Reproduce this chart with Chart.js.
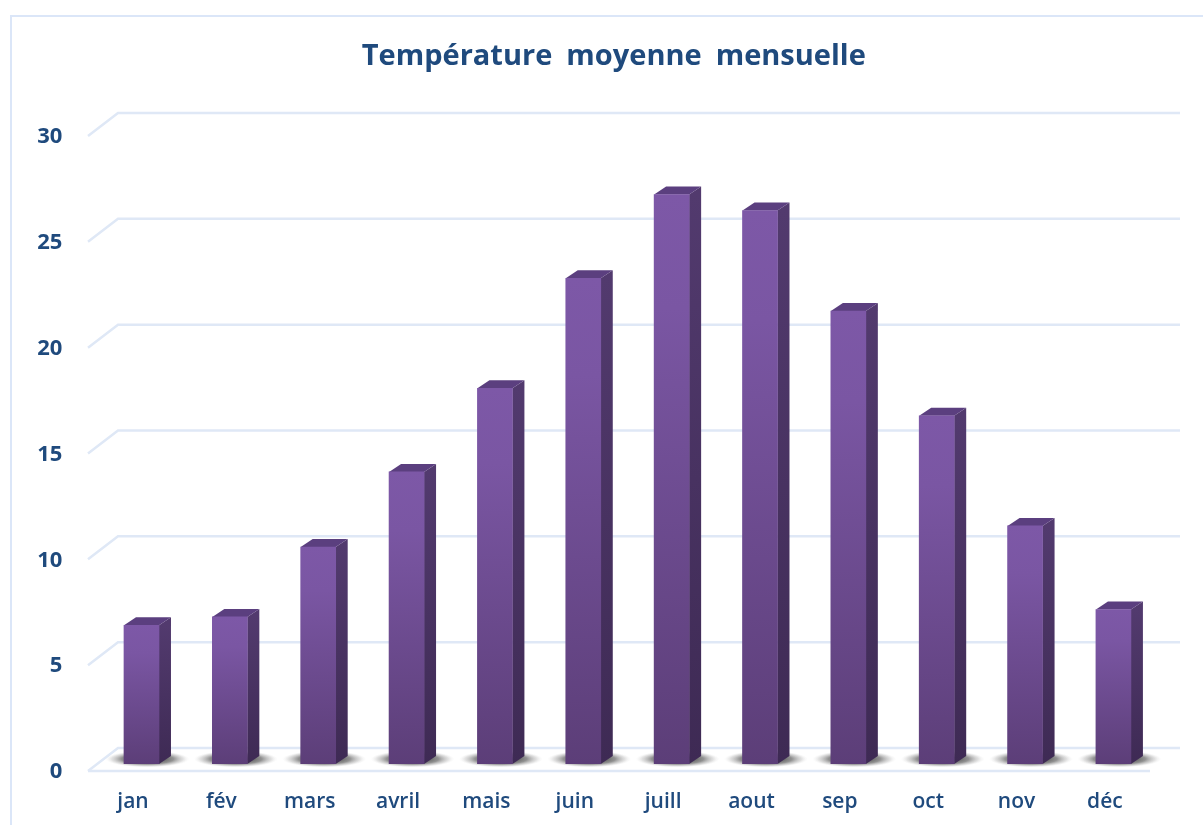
<!DOCTYPE html>
<html lang="fr">
<head>
<meta charset="utf-8">
<title>Température moyenne mensuelle</title>
<script src="https://cdn.jsdelivr.net/npm/chart.js@4/dist/chart.umd.min.js"></script>
<style>
html,body{margin:0;padding:0;background:#fff;overflow:hidden}
#wrap{width:1203px;height:825px;position:relative}
canvas{display:block;filter:blur(0.5px)}
</style>
</head>
<body>
<div id="wrap"><canvas id="c" width="1203" height="825"></canvas></div>
<script>
const categories = ['jan','fév','mars','avril','mais','juin','juill','aout','sep','oct','nov','déc'];
const temperatures = [6.55,6.95,10.25,13.8,17.75,22.95,26.9,26.15,21.4,16.45,11.25,7.3];
const chartTitle = 'Température moyenne mensuelle';
const axisMin = 0, axisMax = 30, axisStep = 5;

const TEXT = '#1f4a7d', GRID = '#dfe8f6', FRAME = '#dbe6f8';
const DX = 12, DY = 8;            // bar depth
const BACK_X = 118, BACK_DY = -16; // back wall offset
const FRONT_X = 88, FRONT_DY = 7;  // front edge offset
const BACK_END = 1180, FLOOR_END = 1150;
const TITLE_SHIFT = 30;

const wall = {
  id: 'wall',
  afterLayout(chart) {
    chart.titleBlock.left += TITLE_SHIFT;
    chart.titleBlock.right += TITLE_SHIFT;
  },
  beforeDraw(chart) {
    const { ctx, scales: { y } } = chart;
    ctx.wordSpacing = '6.5px';
    ctx.save();
    ctx.strokeStyle = FRAME; ctx.lineWidth = 2;
    ctx.beginPath();
    ctx.moveTo(11, 825); ctx.lineTo(11, 16); ctx.lineTo(1203, 16);
    ctx.stroke();
    ctx.strokeStyle = GRID; ctx.lineWidth = 2.5; ctx.lineJoin = 'miter';
    y.ticks.forEach(t => {
      const p = y.getPixelForValue(t.value);
      ctx.beginPath();
      ctx.moveTo(FRONT_X, p + FRONT_DY);
      ctx.lineTo(BACK_X, p + BACK_DY);
      ctx.lineTo(BACK_END, p + BACK_DY);
      ctx.stroke();
    });
    const p0 = y.getPixelForValue(0);
    ctx.beginPath();
    ctx.moveTo(FRONT_X, p0 + FRONT_DY);
    ctx.lineTo(FLOOR_END, p0 + FRONT_DY);
    ctx.stroke();
    ctx.restore();
  }
};

const depth = {
  id: 'depth',
  beforeDatasetsDraw(chart) {
    const { ctx } = chart;
    const bars = chart.getDatasetMeta(0).data;
    ctx.save();
    bars.forEach(b => {
      const cx = b.x + 6, cy = b.base - 5;
      ctx.save();
      ctx.translate(cx, cy);
      ctx.scale(1, 0.2);
      const g = ctx.createRadialGradient(0, 0, 10, 0, 0, 42);
      g.addColorStop(0, 'rgba(60,60,60,0.95)');
      g.addColorStop(0.5, 'rgba(100,100,100,0.7)');
      g.addColorStop(0.8, 'rgba(170,170,170,0.35)');
      g.addColorStop(1, 'rgba(230,230,230,0)');
      ctx.fillStyle = g;
      ctx.beginPath(); ctx.arc(0, 0, 42, 0, Math.PI * 2); ctx.fill();
      ctx.restore();
    });
    bars.forEach(b => {
      const r = b.x + b.width / 2, l = b.x - b.width / 2;
      const side = ctx.createLinearGradient(0, b.y, 0, b.base);
      side.addColorStop(0, '#523a6e');
      side.addColorStop(1, '#3e2a54');
      ctx.fillStyle = side;
      ctx.beginPath();
      ctx.moveTo(r, b.y); ctx.lineTo(r + DX, b.y - DY);
      ctx.lineTo(r + DX, b.base - DY); ctx.lineTo(r, b.base);
      ctx.closePath(); ctx.fill();
      ctx.fillStyle = '#5b3f7f';
      ctx.beginPath();
      ctx.moveTo(l, b.y); ctx.lineTo(l + DX, b.y - DY);
      ctx.lineTo(r + DX, b.y - DY); ctx.lineTo(r, b.y);
      ctx.closePath(); ctx.fill();
    });
    ctx.restore();
  }
};

function faceFill(c) {
  const { chart, raw } = c;
  const y = chart.scales.y;
  if (!chart.chartArea || !y || raw === undefined) return '#7d58a7';
  const top = y.getPixelForValue(raw), base = y.getPixelForValue(0);
  if (!Number.isFinite(top) || !Number.isFinite(base)) return '#7d58a7';
  const g = chart.ctx.createLinearGradient(0, top, 0, base);
  g.addColorStop(0, '#7d58a7');
  g.addColorStop(0.2, '#7a56a3');
  g.addColorStop(1, '#5c3e78');
  return g;
}

new Chart(document.getElementById('c'), {
  type: 'bar',
  data: {
    labels: categories,
    datasets: [{
      data: temperatures,
      backgroundColor: faceFill,
      borderWidth: 0,
      barThickness: 35
    }]
  },
  plugins: [wall, depth],
  options: {
    responsive: false,
    animation: false,
    events: [],
    layout: { padding: { left: 10, right: 45.4, top: 0, bottom: 0 } },
    plugins: {
      legend: { display: false },
      tooltip: { enabled: false },
      title: {
        display: true,
        text: chartTitle,
        color: TEXT,
        font: { family: '"Open Sans"', size: 29, weight: 'bold' },
        padding: { top: 39, bottom: 55.2 }
      }
    },
    scales: {
      x: {
        grid: { display: false, drawTicks: false },
        border: { display: false },
        afterFit(s) { s.height = 61; },
        ticks: {
          color: TEXT,
          font: { family: '"Open Sans"', size: 21, weight: '600' },
          padding: 25,
          labelOffset: -8.5,
          maxRotation: 0,
          autoSkip: false
        }
      },
      y: {
        min: axisMin, max: axisMax,
        grid: { display: false, drawTicks: false },
        border: { display: false },
        afterFit(s) { s.width = 87.3; },
        ticks: {
          stepSize: axisStep,
          color: TEXT,
          font: { family: '"Open Sans"', size: 22, weight: 'bold' },
          padding: 35,
          labelOffset: 8
        }
      }
    }
  }
});
</script>
</body>
</html>
